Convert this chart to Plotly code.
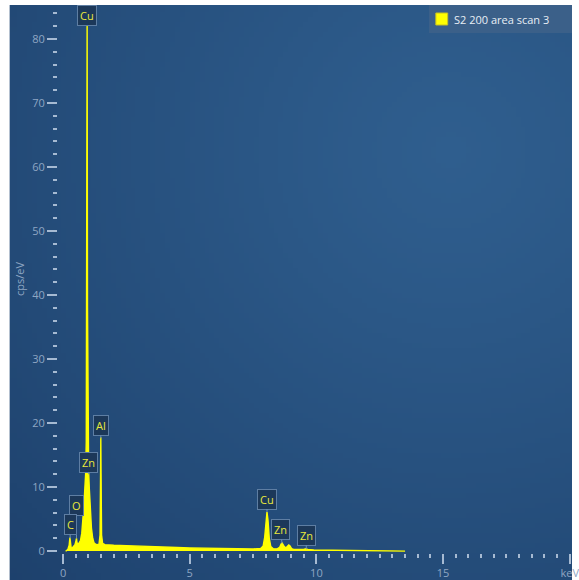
import zlib, struct, base64, math
import plotly.graph_objects as go

# ---------------- data ----------------
energy_kev = [0.10, 0.15, 0.20, 0.24, 0.27, 0.29, 0.32, 0.36, 0.42, 0.47, 0.51, 0.53, 0.55, 0.59,
              0.64, 0.69, 0.74, 0.78, 0.82, 0.86, 0.89, 0.915, 0.935, 0.95, 0.965, 0.985, 1.01,
              1.04, 1.08, 1.12, 1.17, 1.22, 1.28, 1.35, 1.42, 1.46, 1.48, 1.49, 1.50, 1.52, 1.56,
              1.65, 1.8, 2.0, 2.5, 3.0, 3.5, 4.0, 4.5, 5.0, 5.5, 6.0, 6.5, 7.0, 7.5, 7.8, 7.9,
              7.96, 8.01, 8.05, 8.09, 8.14, 8.2, 8.3, 8.45, 8.55, 8.61, 8.65, 8.7, 8.78, 8.85,
              8.91, 8.96, 9.02, 9.1, 9.3, 9.5, 9.58, 9.66, 9.9, 10.5, 11.0, 11.5, 12.0, 12.5,
              13.0, 13.4, 13.5]
cps_per_ev = [0.0, 0.1, 0.4, 0.9, 2.1, 1.2, 0.5, 0.5, 0.7, 1.0, 1.6, 2.0, 1.3, 1.1,
              1.3, 1.7, 2.8, 4.5, 7.0, 9.8, 12.0, 17.0, 40.0, 83.3, 38.0, 15.0, 12.3,
              9.5, 6.0, 3.6, 2.0, 1.3, 1.1, 1.0, 1.1, 2.5, 12.0, 17.8, 12.0, 2.5, 1.2,
              1.0, 0.95, 0.9, 0.85, 0.75, 0.7, 0.62, 0.55, 0.5, 0.45, 0.42, 0.38, 0.35, 0.33, 0.4, 0.8,
              2.2, 4.8, 6.1, 4.8, 2.0, 0.7, 0.35, 0.35, 0.6, 1.1, 1.25, 0.9, 0.5, 0.7,
              0.95, 0.8, 0.4, 0.25, 0.2, 0.25, 0.35, 0.25, 0.18, 0.16, 0.14, 0.13, 0.12, 0.1,
              0.08, 0.06, 0.0]
series_name = "S2 200 area scan 3"

# peak labels: element, energy of tip (keV), tip height (cps/eV)
label_text = ["Cu", "Al", "Zn", "O", "C", "Cu", "Zn", "Zn"]
label_kev = [0.95, 1.49, 1.01, 0.53, 0.28, 8.05, 8.64, 9.60]
label_cps = [83.6, 17.6, 12.0, 2.0, 2.0, 6.1, 1.2, 0.3]

y_tick_vals = [0, 10, 20, 30, 40, 50, 60, 70, 80]
x_tick_vals = [0, 5, 10, 15, 20]
x_tick_text = ["0", "5", "10", "15", "keV"]
x_int_ticks = list(range(0, 21))

# ---------------- style ----------------
W, H = 579, 580
ML, MR, MT, MB = 58, 0, 5, 27
PW, PH = W - ML - MR, H - MT - MB
FONT = "Open Sans"
TICK_COL = "#a6bad2"
LABEL_COL = "#8fa6c3"
# pixel offsets of each label box relative to its tip (ax, ay); None = no arrow
label_offsets = [None, (0, -13), (0, -12), (0, -33), (0, -14), (0, -13), (-1, -14), (0, -14)]


def gradient_png(w, h):
    """background: soft radial highlight toward upper right"""
    c_in = (47, 94, 142)
    c_out = (27, 61, 104)
    cx, cy = 0.78 * w, 0.25 * h
    rmax = math.hypot(w, h) * 0.85
    raw = bytearray()
    for j in range(h):
        raw.append(0)
        for i in range(w):
            d = min(1.0, math.hypot(i - cx, (j - cy) * 1.0) / rmax)
            t = d ** 1.2
            raw += bytes(int(round(a + (b - a) * t)) for a, b in zip(c_in, c_out))

    def chunk(tag, data):
        return (struct.pack(">I", len(data)) + tag + data
                + struct.pack(">I", zlib.crc32(tag + data) & 0xffffffff))
    png = (b"\x89PNG\r\n\x1a\n"
           + chunk(b"IHDR", struct.pack(">IIBBBBB", w, h, 8, 2, 0, 0, 0))
           + chunk(b"IDAT", zlib.compress(bytes(raw), 9))
           + chunk(b"IEND", b""))
    return "data:image/png;base64," + base64.b64encode(png).decode()


def px_to_paper_x(px):
    return (px - ML) / PW


def px_to_paper_y(py):
    return (H - MB - py) / PH


fig = go.Figure()
fig.add_trace(go.Scatter(
    x=energy_kev, y=cps_per_ev, name=series_name, mode="lines",
    line=dict(color="#ffff00", width=1.4), fill="tozeroy", fillcolor="#ffff00",
    showlegend=False, hoverinfo="x+y",
))

annotations = []
for txt, xk, yc, off in zip(label_text, label_kev, label_cps, label_offsets):
    a = dict(x=xk, y=yc, xref="x", yref="y", text=txt,
             font=dict(family=FONT, size=11, color="#e9e83c"),
             bgcolor="#1c3859", bordercolor="#5e7ea3", borderwidth=1, borderpad=2)
    if off is None:
        a.update(showarrow=False, yanchor="middle")
    else:
        a.update(showarrow=True, ax=off[0], ay=off[1], arrowhead=0, arrowwidth=1,
                 arrowcolor="#6f8fb2", standoff=0)
    annotations.append(a)

# legend drawn as a box
annotations.append(dict(x=px_to_paper_x(457), y=px_to_paper_y(19), xref="paper", yref="paper",
                        text=series_name, showarrow=False, xanchor="left", yanchor="middle",
                        font=dict(family=FONT, size=11, color="#e8eef5")))
shapes = [
    dict(type="rect", xref="paper", yref="paper", layer="above",
         x0=px_to_paper_x(434), x1=1.0, y0=px_to_paper_y(33), y1=px_to_paper_y(5),
         fillcolor="#3b6089", line=dict(width=0)),
    dict(type="rect", xref="paper", yref="paper", layer="above",
         x0=px_to_paper_x(441), x1=px_to_paper_x(453), y0=px_to_paper_y(25), y1=px_to_paper_y(13),
         fillcolor="#ffff00", line=dict(width=1, color="#c8c020")),
]

fig.update_layout(
    width=W, height=H,
    margin=dict(l=ML, r=MR, t=MT, b=MB, pad=0),
    paper_bgcolor="white", plot_bgcolor="rgba(0,0,0,0)",
    font=dict(family=FONT, size=11, color=LABEL_COL),
    showlegend=False,
    images=[dict(source=gradient_png(114, 115), xref="paper", yref="paper",
                 x=px_to_paper_x(9), y=px_to_paper_y(5),
                 sizex=(W - 9) / PW, sizey=(H - 5) / PH,
                 xanchor="left", yanchor="top", sizing="stretch", layer="below")],
    xaxis=dict(range=[-0.2, 20.09], showgrid=False, zeroline=False, showline=False,
               tickvals=x_tick_vals, ticktext=x_tick_text, ticks="outside", ticklen=10,
               tickwidth=2, tickcolor=TICK_COL, tickfont=dict(size=11, color=LABEL_COL),
               ticklabeloverflow="allow",
               minor=dict(dtick=0.5, tick0=0, ticks="outside", ticklen=4, tickwidth=2,
                          tickcolor=TICK_COL, showgrid=False)),
    xaxis2=dict(range=[-0.2, 20.09], overlaying="x", anchor="y", side="bottom",
                showgrid=False, zeroline=False, showline=False, showticklabels=False,
                tickvals=x_int_ticks, ticks="outside", ticklen=7, tickwidth=2,
                tickcolor=TICK_COL),
    yaxis=dict(range=[-0.3, 85.3], showgrid=False, zeroline=False, showline=False,
               tickvals=y_tick_vals, ticks="outside", ticklen=10, tickwidth=2,
               tickcolor=TICK_COL, tickfont=dict(size=11, color=LABEL_COL),
               minor=dict(dtick=2, tick0=0, ticks="outside", ticklen=4, tickwidth=2,
                          tickcolor=TICK_COL, showgrid=False),
               title=dict(text="cps/eV", font=dict(size=11, color=LABEL_COL), standoff=5)),
    annotations=annotations, shapes=shapes,
)

fig.write_html("out.html", config={"displayModeBar": False},
               post_script="document.body.style.margin='0';document.body.style.overflow='hidden';")
